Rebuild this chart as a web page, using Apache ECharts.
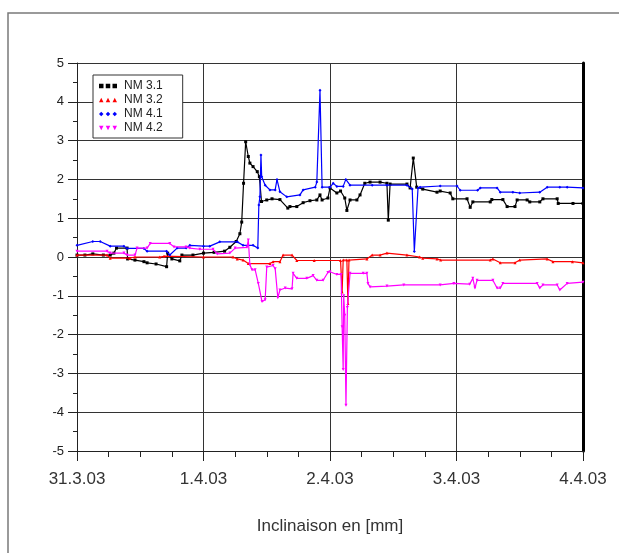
<!DOCTYPE html>
<html>
<head>
<meta charset="utf-8">
<script src="https://cdn.jsdelivr.net/npm/echarts@6/dist/echarts.min.js"></script>
<style>
  html, body { margin: 0; padding: 0; background: #fff; }
  #chart { width: 619px; height: 553px; }
</style>
</head>
<body>
<div id="chart"></div>
<script>
// x = hours since 31.3.03 00:00, y = inclinaison [mm]
const dayLabels = ['31.3.03', '1.4.03', '2.4.03', '3.4.03', '4.4.03'];
const seriesNames = ['NM 3.1', 'NM 3.2', 'NM 4.1', 'NM 4.2'];

const nm31 = [
  [0, 0.05], [1.5, 0.05], [3, 0.08], [5, 0.05], [6.3, 0.05], [7, 0.1], [7.5, 0.23], [9.5, 0.23],
  [9.6, -0.05], [11, -0.08], [12.7, -0.12], [13.3, -0.15], [15, -0.18], [17, -0.25], [17.2, 0.1],
  [18, -0.05], [19.5, -0.1], [19.9, 0.05], [22, 0.05], [24, 0.1], [26, 0.12], [28, 0.15], [29, 0.25],
  [30.2, 0.4], [30.9, 0.6], [31.25, 0.9], [31.6, 1.9], [32, 2.97], [32.5, 2.59], [32.8, 2.42],
  [33.4, 2.33], [34.2, 2.2], [34.6, 2.07], [35.0, 1.43], [36, 1.47], [37, 1.5], [38.5, 1.48],
  [40, 1.26], [40.4, 1.3], [41.7, 1.3], [42.9, 1.4], [44.2, 1.45], [45.5, 1.47], [46.1, 1.6],
  [46.5, 1.47], [47.6, 1.52], [48, 1.78], [49.3, 1.65], [50, 1.7], [50.8, 1.52], [51.2, 1.2],
  [51.8, 1.47], [53.1, 1.47], [53.7, 1.6], [54.6, 1.9], [55.6, 1.93], [57.5, 1.93], [58.8, 1.9],
  [59.06, 0.95], [59.4, 1.88], [62.6, 1.88], [63.2, 1.78], [63.8, 2.55], [64.45, 1.8], [65.6, 1.75],
  [68.3, 1.67], [68.9, 1.7], [70.8, 1.65], [71.3, 1.5], [74, 1.5], [74.6, 1.28], [75.1, 1.42],
  [78.4, 1.42], [78.7, 1.48], [80.8, 1.48], [81.6, 1.3], [83.1, 1.3], [83.5, 1.47], [85.4, 1.47],
  [85.9, 1.42], [87.8, 1.42], [88.4, 1.5], [91.1, 1.5], [91.3, 1.38], [94.1, 1.38], [96, 1.38]
];

const nm32 = [
  [0, 0.05], [5.7, 0.05], [6.3, -0.03], [10, -0.03], [11, 0], [15.7, 0], [16.5, 0.02], [24, 0],
  [29.6, 0], [30.4, -0.05], [31.5, -0.08], [32.5, -0.17], [36.6, -0.17], [37.2, -0.12], [38.5, -0.12],
  [39.1, 0.05], [40.8, 0.05], [41.7, -0.09], [45, -0.09], [50, -0.09], [50.3, -0.9], [50.5, -0.08],
  [51.2, -0.08], [51.4, -1.2], [51.6, -0.08], [55, -0.05], [56, 0.05], [57.5, 0.05], [58.8, 0.1],
  [62.6, 0.05], [65, 0], [65.6, -0.03], [68.3, -0.05], [69, -0.08], [78.4, -0.08], [78.9, -0.05],
  [80.3, -0.15], [83.1, -0.15], [84, -0.08], [89.2, -0.05], [90.3, -0.12], [94, -0.12], [96, -0.15]
];

const nm41 = [
  [0, 0.3], [3, 0.4], [4.4, 0.4], [6.3, 0.28], [8.9, 0.28], [9.5, 0.22], [12.7, 0.22], [13.3, 0.15],
  [17, 0.15], [17.6, 0.05], [19, 0.23], [20.7, 0.23], [21.4, 0.3], [24, 0.28], [25.2, 0.28],
  [27.1, 0.39], [30.4, 0.39], [31.5, 0.3], [33.4, 0.3], [34.3, 0.23], [34.5, 1.34], [34.7, 1.55],
  [34.9, 2.63], [35.04, 2.07], [35.7, 1.85], [36.6, 1.73], [37.6, 1.73], [37.94, 2.0], [38.5, 1.68],
  [39.8, 1.55], [42.3, 1.6], [42.9, 1.73], [45.2, 1.8], [45.5, 1.93], [46.1, 4.3], [46.5, 1.8],
  [48, 1.8], [48.6, 1.9], [49.3, 1.82], [50.5, 1.82], [51.0, 2.0], [51.8, 1.85], [56, 1.85],
  [58.8, 1.85], [62.6, 1.85], [63.6, 1.75], [64.0, 0.14], [64.7, 1.78], [65.1, 1.8], [68.9, 1.83],
  [72.1, 1.83], [72.7, 1.72], [76, 1.72], [76.5, 1.78], [79.7, 1.78], [80.3, 1.67], [82.7, 1.67],
  [84, 1.65], [87.8, 1.67], [89.2, 1.8], [91.6, 1.8], [93, 1.8], [96, 1.78]
];

const nm42 = [
  [0, 0.15], [5.7, 0.15], [6.3, 0.1], [8.9, 0.1], [9.5, 0.05], [11, 0.05], [11.4, 0.23], [13.3, 0.23],
  [13.9, 0.35], [17.6, 0.35], [18.4, 0.26], [20.7, 0.26], [21.4, 0.23], [23.3, 0.2], [25.8, 0.2],
  [26.6, 0.08], [29, 0.1], [30, 0.23], [32.25, 0.25], [32.5, 0.44], [32.8, -0.2], [33.2, -0.33],
  [33.8, -0.33], [34.4, -0.68], [35.1, -1.15], [35.7, -1.1], [36, -0.26], [37.2, -0.22], [37.6, -0.3],
  [38.1, -1.05], [38.5, -0.85], [39.5, -0.8], [40.8, -0.82], [41, -0.42], [41.7, -0.55], [43.6, -0.55],
  [44.8, -0.48], [45.5, -0.6], [46.7, -0.6], [47.6, -0.4], [48, -0.38], [49.3, -0.45], [50.1, -0.45],
  [50.3, -1.8], [50.5, -2.9], [50.6, -1.0], [50.8, -1.5], [51.03, -3.82], [51.3, -1.3], [51.8, -0.42],
  [54.3, -0.42], [55, -0.42], [55.2, -0.68], [55.6, -0.77], [58.8, -0.75], [62, -0.72], [68.9, -0.72],
  [71.5, -0.68], [74.5, -0.7], [75.1, -0.55], [75.5, -0.8], [75.9, -0.6], [78.9, -0.6], [79.7, -0.8],
  [80.3, -0.8], [80.8, -0.68], [87.3, -0.68], [87.8, -0.8], [88.4, -0.72], [91.1, -0.72], [91.6, -0.85],
  [93, -0.68], [96, -0.65]
];

const colors = ['#000000', '#ff0000', '#0000ff', '#ff00ff'];
const symbols = ['rect', 'triangle', 'diamond', 'path://M0,0L10,0L5,10Z'];
// three markers side by side, as in the legend box
const legendIcons = [
  'path://M0,0h4v4h-4zM6,0h4v4h-4zM12,0h4v4h-4z',
  'path://M2,0L4,4H0zM8,0L10,4H6zM14,0L16,4H12z',
  'path://M2,0L4,2L2,4L0,2zM8,0L10,2L8,4L6,2zM14,0L16,2L14,4L12,2z',
  'path://M0,0H4L2,4zM6,0H10L8,4zM12,0H16L14,4z'
];

const font = 'Liberation Sans, Arial, sans-serif';
const chart = echarts.init(document.getElementById('chart'));

const allData = [nm31, nm32, nm41, nm42];

const option = {
  animation: false,
  textStyle: { fontFamily: font },
  graphic: [{
    type: 'rect',
    shape: { x: 8, y: 13, width: 700, height: 700 },
    style: { fill: 'none', stroke: '#7a7a7a', lineWidth: 1.5 },
    silent: true
  }],
  grid: { left: 77, right: 36, top: 63, bottom: 102 },
  legend: {
    orient: 'vertical',
    left: 93,
    top: 75,
    padding: [5, 20, 4, 6],
    itemGap: 2,
    itemWidth: 18,
    itemHeight: 5,
    backgroundColor: '#fff',
    borderColor: '#333',
    borderWidth: 1,
    borderRadius: 0,
    textStyle: { fontSize: 12, color: '#222', fontFamily: font, padding: [0, 0, 0, 2] },
    data: seriesNames.map((n, i) => ({ name: n, icon: legendIcons[i], itemStyle: { color: colors[i] } }))
  },
  xAxis: {
    type: 'value',
    min: 0,
    max: 96,
    interval: 24,
    name: 'Inclinaison en [mm]',
    nameLocation: 'middle',
    nameGap: 67,
    nameTextStyle: { fontSize: 17, color: '#333', fontFamily: font },
    axisLine: { show: true, onZero: false, lineStyle: { color: '#222', width: 1 } },
    axisTick: { show: true, inside: false, length: 10, lineStyle: { color: '#222' } },
    minorTick: { show: true, splitNumber: 4, length: 6, lineStyle: { color: '#222' } },
    axisLabel: {
      margin: 20,
      fontSize: 17,
      color: '#333',
      formatter: v => dayLabels[Math.round(v / 24)] || ''
    },
    splitLine: { show: true, lineStyle: { color: '#333', width: 1 } }
  },
  yAxis: [{
    type: 'value',
    min: -5,
    max: 5,
    interval: 1,
    axisLine: { show: true, lineStyle: { color: '#222', width: 1 } },
    axisTick: { show: true, inside: false, length: 9, lineStyle: { color: '#222' } },
    minorTick: { show: true, splitNumber: 2, length: 4, lineStyle: { color: '#222' } },
    axisLabel: { margin: 13, fontSize: 13, color: '#222' },
    splitLine: { show: true, lineStyle: { color: '#333', width: 1 } }
  }, {
    type: 'value',
    position: 'right',
    min: -5,
    max: 5,
    interval: 1,
    axisLine: { show: true, lineStyle: { color: '#000', width: 3 } },
    axisTick: { show: false },
    axisLabel: { show: false },
    splitLine: { show: false }
  }],
  series: allData.map((d, i) => ({
    name: seriesNames[i],
    type: 'line',
    data: d,
    symbol: symbols[i],
    symbolSize: 3,
    showAllSymbol: true,
    lineStyle: { color: colors[i], width: 1.2 },
    itemStyle: { color: colors[i] },
    z: 3 + i
  }))
};

chart.setOption(option);
</script>
</body>
</html>
